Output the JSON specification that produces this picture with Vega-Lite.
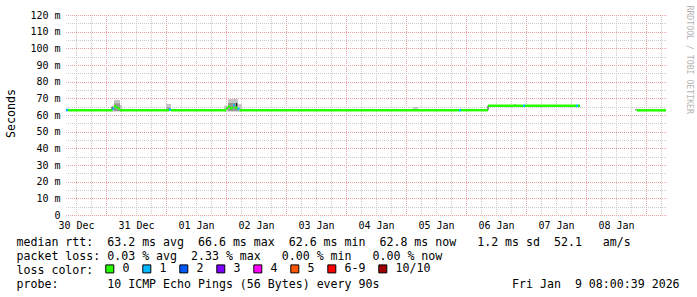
{
  "$schema": "https://vega.github.io/schema/vega-lite/v6.json",
  "width": 600,
  "height": 200,
  "autosize": {"type": "none"},
  "padding": {"left": 66, "top": 15, "right": 31, "bottom": 82},
  "background": "white",
  "config": {
    "view": {"stroke": null},
    "axis": {"labelFont": "DejaVu Sans Mono", "titleFont": "DejaVu Sans Mono", "titleFontWeight": "normal", "labelColor": "#000000", "titleColor": "#000000", "gridDashOffset": 0.5}
  },
  "datasets": {
    "smoke": [
      {"start": "2025-12-31T02:24:00Z", "end": "2025-12-31T03:12:00Z", "lo": 62.0, "hi": 65.5, "band": "outer"},
      {"start": "2025-12-31T03:12:00Z", "end": "2025-12-31T05:36:00Z", "lo": 62.0, "hi": 69.0, "band": "outer"},
      {"start": "2025-12-31T05:36:00Z", "end": "2025-12-31T06:24:00Z", "lo": 62.0, "hi": 66.0, "band": "outer"},
      {"start": "2025-12-31T03:12:00Z", "end": "2025-12-31T05:36:00Z", "lo": 62.4, "hi": 67.0, "band": "inner"},
      {"start": "2026-01-01T00:00:00Z", "end": "2026-01-01T02:00:00Z", "lo": 62.3, "hi": 66.6, "band": "outer"},
      {"start": "2026-01-01T00:24:00Z", "end": "2026-01-01T01:36:00Z", "lo": 62.5, "hi": 64.6, "band": "inner"},
      {"start": "2026-01-01T23:12:00Z", "end": "2026-01-02T00:48:00Z", "lo": 62.0, "hi": 65.5, "band": "outer"},
      {"start": "2026-01-02T00:48:00Z", "end": "2026-01-02T04:48:00Z", "lo": 62.0, "hi": 69.6, "band": "outer"},
      {"start": "2026-01-02T04:48:00Z", "end": "2026-01-02T06:24:00Z", "lo": 62.0, "hi": 66.5, "band": "outer"},
      {"start": "2026-01-02T00:48:00Z", "end": "2026-01-02T04:48:00Z", "lo": 62.4, "hi": 67.2, "band": "inner"},
      {"start": "2026-01-05T02:48:00Z", "end": "2026-01-05T04:48:00Z", "lo": 62.5, "hi": 64.8, "band": "outer"}
    ],
    "steps": [
      {"t": "2025-12-31T02:24:00Z", "lo": 62.9, "hi": 65.0},
      {"t": "2026-01-02T04:12:00Z", "lo": 64.4, "hi": 67.2},
      {"t": "2026-01-06T08:48:00Z", "lo": 62.9, "hi": 65.6},
      {"t": "2026-01-06T19:36:00Z", "lo": 65.6, "hi": 66.4},
      {"t": "2026-01-08T20:00:00Z", "lo": 62.8, "hi": 63.6}
    ],
    "median": [
      {"start": "2025-12-30T08:00:00Z", "end": "2025-12-30T08:48:00Z", "ms": 63.0, "loss": "1"},
      {"start": "2025-12-30T08:48:00Z", "end": "2025-12-31T02:36:00Z", "ms": 62.9, "loss": "0"},
      {"start": "2025-12-31T02:36:00Z", "end": "2025-12-31T03:12:00Z", "ms": 63.8, "loss": "1"},
      {"start": "2025-12-31T03:12:00Z", "end": "2025-12-31T04:00:00Z", "ms": 65.3, "loss": "0"},
      {"start": "2025-12-31T04:00:00Z", "end": "2025-12-31T04:48:00Z", "ms": 64.6, "loss": "0"},
      {"start": "2025-12-31T04:48:00Z", "end": "2025-12-31T05:36:00Z", "ms": 63.8, "loss": "0"},
      {"start": "2025-12-31T05:36:00Z", "end": "2026-01-01T01:12:00Z", "ms": 62.9, "loss": "0"},
      {"start": "2026-01-01T01:12:00Z", "end": "2026-01-01T02:00:00Z", "ms": 63.3, "loss": "1"},
      {"start": "2026-01-01T02:00:00Z", "end": "2026-01-02T00:00:00Z", "ms": 62.9, "loss": "0"},
      {"start": "2026-01-02T00:00:00Z", "end": "2026-01-02T00:48:00Z", "ms": 64.0, "loss": "0"},
      {"start": "2026-01-02T00:48:00Z", "end": "2026-01-02T01:36:00Z", "ms": 65.2, "loss": "0"},
      {"start": "2026-01-02T01:36:00Z", "end": "2026-01-02T02:48:00Z", "ms": 64.2, "loss": "0"},
      {"start": "2026-01-02T02:48:00Z", "end": "2026-01-02T03:24:00Z", "ms": 66.0, "loss": "1"},
      {"start": "2026-01-02T03:24:00Z", "end": "2026-01-02T04:36:00Z", "ms": 64.4, "loss": "0"},
      {"start": "2026-01-02T04:36:00Z", "end": "2026-01-02T05:24:00Z", "ms": 63.6, "loss": "1"},
      {"start": "2026-01-02T05:24:00Z", "end": "2026-01-05T21:12:00Z", "ms": 62.9, "loss": "0"},
      {"start": "2026-01-05T21:12:00Z", "end": "2026-01-05T22:00:00Z", "ms": 62.9, "loss": "1"},
      {"start": "2026-01-05T22:00:00Z", "end": "2026-01-06T08:48:00Z", "ms": 62.9, "loss": "0"},
      {"start": "2026-01-06T08:48:00Z", "end": "2026-01-06T22:48:00Z", "ms": 65.6, "loss": "0"},
      {"start": "2026-01-06T22:48:00Z", "end": "2026-01-06T23:36:00Z", "ms": 65.6, "loss": "1"},
      {"start": "2026-01-06T23:36:00Z", "end": "2026-01-07T20:00:00Z", "ms": 65.6, "loss": "0"},
      {"start": "2026-01-07T20:00:00Z", "end": "2026-01-07T20:48:00Z", "ms": 65.6, "loss": "1"},
      {"start": "2026-01-07T20:48:00Z", "end": "2026-01-07T21:36:00Z", "ms": 65.6, "loss": "0"},
      {"start": "2026-01-08T20:17:00Z", "end": "2026-01-09T08:00:00Z", "ms": 62.8, "loss": "0"}
    ]
  },
  "layer": [
    {
      "data": {"name": "smoke"},
      "mark": {"type": "rect"},
      "encoding": {
        "x": {"field": "start", "type": "temporal", "scale": {"type": "utc", "domain": [1767081600000, 1767945600000]},
          "axis": {"orient": "bottom", "values": [1767096000000, 1767117600000, 1767160800000, 1767182400000, 1767204000000, 1767247200000, 1767268800000, 1767290400000, 1767333600000, 1767355200000, 1767376800000, 1767420000000, 1767441600000, 1767463200000, 1767506400000, 1767528000000, 1767549600000, 1767592800000, 1767614400000, 1767636000000, 1767679200000, 1767700800000, 1767722400000, 1767765600000, 1767787200000, 1767808800000, 1767852000000, 1767873600000, 1767895200000, 1767938400000],
            "grid": true, "gridColor": "#cacaca", "gridDash": [1, 1], "gridWidth": 1, "labels": false, "ticks": false, "domain": false, "title": null}},
        "x2": {"field": "end"},
        "y": {"field": "lo", "type": "quantitative", "scale": {"domain": [0, 120], "nice": false},
          "axis": {"orient": "left", "values": [5, 15, 25, 35, 45, 55, 65, 75, 85, 95, 105, 115], "grid": true, "gridColor": "#cacaca", "gridDash": [1, 1], "gridWidth": 1, "labels": false, "ticks": false, "domain": false, "title": null}},
        "y2": {"field": "hi"},
        "color": {"field": "band", "type": "nominal", "scale": {"domain": ["outer", "inner"], "range": ["#c6c6c6", "#979797"]}, "legend": null}
      }
    },
    {
      "data": {"name": "steps"},
      "mark": {"type": "rule", "color": "#202020", "strokeWidth": 1},
      "encoding": {
        "x": {"field": "t", "type": "temporal", "scale": {"type": "utc", "domain": [1767081600000, 1767945600000]},
          "axis": {"orient": "bottom", "values": [1767139200000, 1767225600000, 1767312000000, 1767398400000, 1767484800000, 1767571200000, 1767657600000, 1767744000000, 1767830400000, 1767916800000],
            "grid": true, "gridColor": "#e8a0a0", "gridDash": [1, 1], "gridWidth": 1, "labels": false, "ticks": false, "domain": false, "title": null}},
        "y": {"field": "lo", "type": "quantitative", "scale": {"domain": [0, 120], "nice": false},
          "axis": {"orient": "left", "values": [0, 10, 20, 30, 40, 50, 60, 70, 80, 90, 100, 110, 120], "grid": true, "gridColor": "#e8a0a0", "gridDash": [1, 1], "gridWidth": 1,
            "labels": true, "labelExpr": "datum.value == 0 ? '0' : datum.value + ' m'", "labelFontSize": 10, "labelPadding": 6, "labelAlign": "right", "labelBaseline": "middle",
            "ticks": false, "domain": false,
            "title": "Seconds", "titleFontSize": 11.6, "titleAngle": -90, "titleX": -55, "titleY": 98, "titleAlign": "center", "titleBaseline": "middle"}},
        "y2": {"field": "hi"}
      }
    },
    {
      "data": {"name": "median"},
      "mark": {"type": "rule", "strokeWidth": 2.5, "strokeCap": "butt"},
      "encoding": {
        "x": {"field": "start", "type": "temporal", "scale": {"type": "utc", "domain": [1767081600000, 1767945600000]},
          "axis": {"orient": "bottom", "values": [1767096000000, 1767182400000, 1767268800000, 1767355200000, 1767441600000, 1767528000000, 1767614400000, 1767700800000, 1767787200000, 1767873600000],
            "grid": false, "labels": true, "labelExpr": "utcFormat(datum.value, '%d %b')", "labelFontSize": 10, "labelPadding": 5, "labelFlush": false, "labelOverlap": false,
            "ticks": false, "domain": false,
            "title": [
              "median\u00a0rtt:\u00a0\u00a063.2\u00a0ms\u00a0avg\u00a0\u00a066.6\u00a0ms\u00a0max\u00a0\u00a062.6\u00a0ms\u00a0min\u00a0\u00a062.8\u00a0ms\u00a0now\u00a0\u00a0\u00a01.2\u00a0ms\u00a0sd\u00a0\u00a052.1\u00a0\u00a0\u00a0am/s",
              "packet\u00a0loss:\u00a00.03\u00a0%\u00a0avg\u00a0\u00a02.33\u00a0%\u00a0max\u00a0\u00a0\u00a00.00\u00a0%\u00a0min\u00a0\u00a0\u00a00.00\u00a0%\u00a0now",
              "loss\u00a0color:",
              "probe:\u00a0\u00a0\u00a0\u00a0\u00a0\u00a0\u00a010\u00a0ICMP\u00a0Echo\u00a0Pings\u00a0(56\u00a0Bytes)\u00a0every\u00a090s\u00a0\u00a0\u00a0\u00a0\u00a0\u00a0\u00a0\u00a0\u00a0\u00a0\u00a0\u00a0\u00a0\u00a0\u00a0\u00a0\u00a0\u00a0\u00a0Fri\u00a0Jan\u00a0\u00a09\u00a008:00:39\u00a02026"
            ],
            "titleFontSize": 11.6, "titleX": -50, "titleY": 30, "titleAlign": "left", "titleBaseline": "alphabetic", "titleLineHeight": 14, "titleAngle": 0}},
        "x2": {"field": "end"},
        "y": {"field": "ms", "type": "quantitative", "scale": {"domain": [0, 120], "nice": false},
          "axis": {"orient": "right", "values": [], "grid": false, "labels": false, "ticks": false, "domain": false,
            "title": "RRDTOOL / TOBI OETIKER", "titleFontSize": 8.2, "titleColor": "#b4b4b4", "titleAngle": 90, "titleX": 22, "titleY": -10, "titleAlign": "left", "titleBaseline": "middle"}},
        "color": {"field": "loss", "type": "nominal", "scale": {"domain": ["0", "1", "2", "3", "4", "5", "6-9", "10/10"], "range": ["#26ff00", "#00b8ff", "#0059ff", "#7e00ff", "#ff00ff", "#ff5500", "#ff0000", "#a10000"]}, "legend": null}
      }
    },
    {
      "data": {"name": "median"},
      "transform": [{"filter": "false"}],
      "mark": {"type": "square", "filled": true, "stroke": "#000000", "strokeWidth": 1, "opacity": 1},
      "encoding": {
        "x": {"field": "start", "type": "temporal", "scale": {"type": "utc", "domain": [1767081600000, 1767945600000]}, "axis": null},
        "y": {"field": "ms", "type": "quantitative", "scale": {"domain": [0, 120], "nice": false}, "axis": null},
        "color": {"field": "loss", "type": "nominal",
          "scale": {"domain": ["0", "1", "2", "3", "4", "5", "6-9", "10/10"], "range": ["#26ff00", "#00b8ff", "#0059ff", "#7e00ff", "#ff00ff", "#ff5500", "#ff0000", "#a10000"]},
          "legend": {"orient": "none", "legendX": 38, "legendY": 248, "direction": "horizontal", "columns": 8, "title": null, "padding": 0,
            "symbolType": "square", "symbolSize": 64, "symbolStrokeColor": "#000000", "symbolStrokeWidth": 1, "symbolOpacity": 1,
            "labelFont": "DejaVu Sans Mono", "labelFontSize": 11.6, "labelColor": "#000000", "labelOffset": 7, "columnPadding": 10, "labelBaseline": "middle"}}
      }
    },
    {
      "mark": {"type": "rule", "color": "#202020", "strokeWidth": 1, "clip": false},
      "encoding": {
        "x": {"datum": 1767081600000, "type": "temporal", "scale": {"type": "utc", "domain": [1767081600000, 1767945600000]}, "axis": null},
        "y": {"datum": 0, "type": "quantitative", "scale": {"domain": [0, 120], "nice": false}, "axis": null},
        "y2": {"datum": 121.6}
      }
    },
    {
      "mark": {"type": "rule", "color": "#202020", "strokeWidth": 1, "clip": false},
      "encoding": {
        "x": {"datum": 1767081600000, "type": "temporal", "scale": {"type": "utc", "domain": [1767081600000, 1767945600000]}, "axis": null},
        "x2": {"datum": 1767951000000},
        "y": {"datum": 0, "type": "quantitative", "scale": {"domain": [0, 120], "nice": false}, "axis": null}
      }
    },
    {
      "mark": {"type": "point", "shape": "M-1,0.7L0,-0.7L1,0.7Z", "filled": true, "color": "#8b1a1a", "size": 49, "opacity": 1, "clip": false},
      "encoding": {
        "x": {"datum": 1767081600000, "type": "temporal", "scale": {"type": "utc", "domain": [1767081600000, 1767945600000]}, "axis": null},
        "y": {"datum": 122.6, "type": "quantitative", "scale": {"domain": [0, 120], "nice": false}, "axis": null}
      }
    },
    {
      "mark": {"type": "point", "shape": "M-0.7,-1L0.7,0L-0.7,1Z", "filled": true, "color": "#8b1a1a", "size": 49, "opacity": 1, "clip": false},
      "encoding": {
        "x": {"datum": 1767952800000, "type": "temporal", "scale": {"type": "utc", "domain": [1767081600000, 1767945600000]}, "axis": null},
        "y": {"datum": 0, "type": "quantitative", "scale": {"domain": [0, 120], "nice": false}, "axis": null}
      }
    }
  ],
  "resolve": {
    "scale": {"color": "independent"},
    "axis": {"x": "independent", "y": "independent"},
    "legend": {"color": "independent"}
  }
}
